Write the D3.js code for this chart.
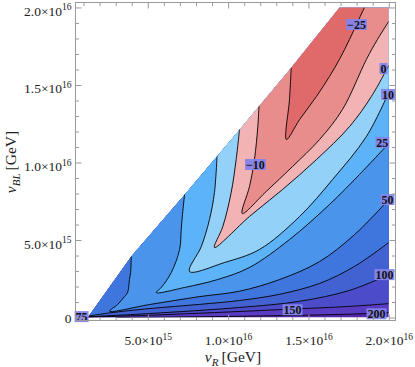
<!DOCTYPE html>
<html>
<head>
<meta charset="utf-8">
<script src="https://cdn.jsdelivr.net/npm/d3@7/dist/d3.min.js"></script>
<style>
html,body{margin:0;padding:0;background:#fff;}
svg{display:block;}
svg text{font-family:"Liberation Serif","Times New Roman",serif;}
</style>
</head>
<body>
<svg id="chart" width="415" height="367"></svg>
<script>
// ---------------- data: v_R , v_BL in units of 1e15 GeV ----------------
const levels = [-25, -10, 0, 10, 25, 50, 75, 100, 150, 200];
const levelLabels = ["\u221225", "\u221210", "0", "10", "25", "50", "75", "100", "150", "200"];

// upper-left edge of the allowed region (bottom to top)
const regionEdge = [[1.25,0],[3.97,3.95],[7.29,7.94],[10.19,11.48],[13.93,16.13],[16.93,20]];
const vRMax = 20, vBLMax = 20;

// contour lines, each from its start on the region edge to the right/top edge
const contourM25 = [[13.93,16.13],[13.82,14.06],[13.63,11.48],[14.45,12.77],[15.50,14.26],[16.31,15.55],[16.93,16.65],[17.56,17.94],[17.99,18.90],[18.49,20.0]];
const contourM10 = [[11.92,13.63],[11.85,12.34],[11.64,10.19],[11.33,8.45],[10.88,6.71],[12.37,8.13],[14.01,9.74],[15.69,11.48],[17.12,13.42],[18.61,16.65],[19.30,17.94],[20,19.10]];
const contour0   = [[10.71,12.13],[10.50,10.19],[10.19,8.06],[9.67,5.87],[9.15,4.52],[11.33,6.52],[13.39,8.26],[15.50,10.19],[17.56,12.32],[18.92,14.26],[20,16.26]];
const contour10  = [[9.31,10.41],[9.15,8.06],[8.84,6.32],[8.33,4.58],[7.60,2.97],[9.78,3.55],[11.95,4.39],[14.45,6.52],[16.50,8.90],[18.61,11.68],[20,14.52]];
const contour25  = [[7.29,7.94],[7.16,6.65],[7.08,5.68],[6.98,4.39],[6.46,2.90],[5.84,1.94],[5.53,1.61],[7.29,1.94],[9.34,2.45],[11.33,3.23],[13.82,5.03],[16.31,7.29],[18.18,9.23],[20,11.23]];
const contour50  = [[3.97,3.95],[3.93,2.90],[3.86,2.45],[3.74,1.61],[3.55,1.35],[3.12,0.84],[2.62,0.41],[5.11,0.84],[8.22,1.35],[10.71,1.70],[13.20,2.45],[15.69,3.61],[17.87,5.35],[20,7.61]];
const contour75  = [[1.32,0.10],[2.62,0.30],[5.11,0.58],[8.22,0.85],[10.71,1.10],[13.20,1.50],[15.69,2.20],[17.87,3.30],[20,4.84]];
const contour100 = [[1.28,0.05],[5.11,0.26],[10.71,0.65],[14.45,1.05],[17.56,1.75],[20,2.77]];
const contour150 = [[1.26,0.02],[5.11,0.15],[8.22,0.28],[11.95,0.45],[14.01,0.55],[17.56,0.72],[20,0.90]];
const contour200 = [[3.0,0.0],[8.22,0.05],[11.95,0.10],[17.56,0.22],[20,0.32]];
const contours = [contourM25, contourM10, contour0, contour10, contour25, contour50, contour75, contour100, contour150, contour200];

// contour label anchors
const labelVR  = [17.99, 11.70, 19.67, 19.95, 19.60, 19.92, 0.88, 19.73, 14.01, 19.24];
const labelVBL = [18.90,  9.87, 16.06, 14.39, 11.29,  7.61, 0.06,  2.77,  0.50,  0.24];

// ticks
const xTicksMajor = [5, 10, 15, 20];
const xTicksMinor = [1, 2, 3, 4, 6, 7, 8, 9, 11, 12, 13, 14, 16, 17, 18, 19];
const yTicksMajor = [0, 5, 10, 15, 20];
const yTicksMinor = [1, 2, 3, 4, 6, 7, 8, 9, 11, 12, 13, 14, 16, 17, 18, 19];

// ---------------- styles ----------------
const bandColors = ["#e06a6a","#e98c8c","#f1b3b3","#93d1f9","#5cb3f7","#4a94ec","#3f76de","#4262d2","#4c4ccb","#5a3cc2","#5527ad"];
const serif = "Liberation Serif, Times New Roman, serif";
const frameColor = "#9a9a9a";

// ---------------- drawing ----------------
const svg = d3.select("#chart");
const x = d3.scaleLinear().domain([0.5, 20.42]).range([75.5, 395.5]);
const y = d3.scaleLinear().domain([-0.19, 20.32]).range([320.5, 2.5]);

const domainPoly = [[vRMax,0],[vRMax,vBLMax]].concat(regionEdge.slice().reverse());
const polyLine = d3.line().x(d => x(d[0])).y(d => y(d[1]));
const curveLine = d3.line().x(d => x(d[0])).y(d => y(d[1])).curve(d3.curveCatmullRom.alpha(0.5));

function sublevelPath(c) {
  const s = c[0], e = c[c.length - 1];
  let p = curveLine(c);
  const tail = [];
  if (e[0] >= vRMax - 1e-6 && e[1] < vBLMax) tail.push([vRMax, vBLMax]);
  for (let i = regionEdge.length - 1; i >= 0; i--) if (regionEdge[i][1] > s[1] + 1e-6) tail.push(regionEdge[i]);
  if (s[1] <= 1e-6) tail.push(regionEdge[0]);
  tail.forEach(q => { p += "L" + x(q[0]) + "," + y(q[1]); });
  return p + "Z";
}

svg.append("defs").append("clipPath").attr("id", "dom")
  .append("path").attr("d", polyLine(domainPoly) + "Z");

const plot = svg.append("g").attr("clip-path", "url(#dom)");
plot.append("path").attr("d", polyLine(domainPoly) + "Z").attr("fill", bandColors[bandColors.length - 1]);

const order = contours.map((c, i) => i).reverse();
plot.selectAll("path.band").data(order).join("path")
  .attr("class", "band")
  .attr("d", i => sublevelPath(contours[i]))
  .attr("fill", i => bandColors[i]);

plot.selectAll("path.cline").data(contours).join("path")
  .attr("class", "cline")
  .attr("d", curveLine)
  .attr("fill", "none")
  .attr("stroke", "#000")
  .attr("stroke-width", 0.9);

// contour labels
const labs = svg.append("g").selectAll("g").data(levels.map((l, i) => ({t: levelLabels[i], vr: labelVR[i], vbl: labelVBL[i]})))
  .join("g").attr("transform", d => `translate(${x(d.vr)},${y(d.vbl)})`);
labs.append("text")
  .attr("text-anchor", "middle").attr("dy", "0.36em")
  .style("font-family", serif).style("font-size", "12px").style("font-weight", "bold").attr("fill", "#111")
  .text(d => d.t);
labs.each(function() {
  const g = d3.select(this);
  const bb = g.select("text").node().getBBox();
  g.insert("rect", "text")
    .attr("x", bb.x - 1).attr("y", -5.5).attr("width", bb.width + 2).attr("height", 11)
    .attr("fill", "#8484ea").attr("opacity", 0.95);
});

// frame
svg.append("rect").attr("x", x.range()[0]).attr("y", y.range()[1])
  .attr("width", x.range()[1] - x.range()[0]).attr("height", y.range()[0] - y.range()[1])
  .attr("fill", "none").attr("stroke", frameColor).attr("stroke-width", 1);

function sci(sel, v) {
  sel.text(null);
  if (v === 0) { sel.text("0"); return; }
  const val = v * 1e15;
  const ex = Math.floor(Math.log10(val) + 1e-9);
  const m = (val / Math.pow(10, ex)).toFixed(1);
  sel.append("tspan").text(m + "\u00d710");
  sel.append("tspan").attr("dy", -5.5).style("font-size", "9.5px").text(ex);
}
function clean(g) {
  g.select(".domain").remove();
  g.selectAll(".tick line").attr("stroke", frameColor);
  g.attr("font-family", null).attr("font-size", null);
  g.selectAll(".tick text").style("font-family", serif).style("font-size", "13.5px");
}

// bottom
const gb = svg.append("g").attr("transform", `translate(0,${y.range()[0]})`)
  .call(d3.axisBottom(x).tickValues(xTicksMajor).tickSize(-6).tickFormat("")).call(clean);
gb.selectAll(".tick text").attr("y", 24.5).attr("dy", null).attr("fill", "#222").each(function(d) { sci(d3.select(this), d); });
svg.append("g").attr("transform", `translate(0,${y.range()[0]})`)
  .call(d3.axisBottom(x).tickValues(xTicksMinor).tickSize(-3.5).tickFormat("")).call(clean);
// top
svg.append("g").attr("transform", `translate(0,${y.range()[1]})`)
  .call(d3.axisTop(x).tickValues(xTicksMajor).tickSize(-6).tickFormat("")).call(clean);
svg.append("g").attr("transform", `translate(0,${y.range()[1]})`)
  .call(d3.axisTop(x).tickValues(xTicksMinor).tickSize(-3.5).tickFormat("")).call(clean);
// left
const gl = svg.append("g").attr("transform", `translate(${x.range()[0]},0)`)
  .call(d3.axisLeft(y).tickValues(yTicksMajor).tickSize(-6).tickPadding(4).tickFormat("")).call(clean);
gl.selectAll(".tick text").attr("dy", null).attr("y", d => d === 0 ? 4.5 : 8).attr("fill", "#222")
  .each(function(d) { sci(d3.select(this), d); });
svg.append("g").attr("transform", `translate(${x.range()[0]},0)`)
  .call(d3.axisLeft(y).tickValues(yTicksMinor).tickSize(-3.5).tickFormat("")).call(clean);
// right
svg.append("g").attr("transform", `translate(${x.range()[1]},0)`)
  .call(d3.axisRight(y).tickValues(yTicksMajor).tickSize(-6).tickFormat("")).call(clean);
svg.append("g").attr("transform", `translate(${x.range()[1]},0)`)
  .call(d3.axisRight(y).tickValues(yTicksMinor).tickSize(-3.5).tickFormat("")).call(clean);

// axis titles
const xt = svg.append("text").attr("x", 233).attr("y", 362).attr("text-anchor", "middle")
  .style("font-family", serif).style("font-size", "15.5px").attr("fill", "#222");
xt.append("tspan").style("font-style", "italic").text("v");
xt.append("tspan").style("font-style", "italic").style("font-size", "11px").attr("dy", 3.5).text("R");
xt.append("tspan").attr("dy", -3.5).text("\u2009[GeV]");

const yt = svg.append("text").attr("transform", "translate(16,162) rotate(-90)").attr("text-anchor", "middle")
  .style("font-family", serif).style("font-size", "15.5px").attr("fill", "#222");
yt.append("tspan").style("font-style", "italic").text("v");
yt.append("tspan").style("font-style", "italic").style("font-size", "11px").attr("dy", 3.5).text("BL");
yt.append("tspan").attr("dy", -3.5).text("\u2009[GeV]");
</script>
</body>
</html>
